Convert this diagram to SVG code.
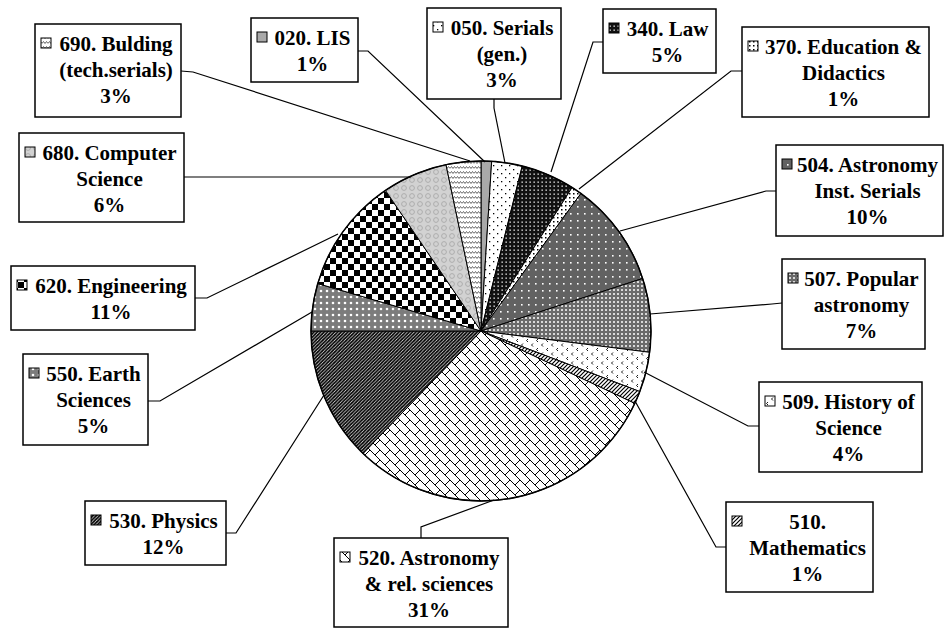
<svg xmlns="http://www.w3.org/2000/svg" width="945" height="630" viewBox="0 0 945 630">
<style>
.box{fill:#fff;stroke:#000;stroke-width:1.5}
.key{stroke:#000;stroke-width:1}
.lbl{font-family:"Liberation Serif","Times New Roman",Tinos,"DejaVu Serif",serif;font-weight:bold;font-size:21px;text-anchor:middle;fill:#000}
.lead{fill:none;stroke:#000;stroke-width:1.2}
.slice{stroke:#000;stroke-width:1}
</style>
<defs>
<pattern id="p050" width="8" height="8" patternUnits="userSpaceOnUse"><rect width="8" height="8" fill="#fff"/><rect x="1" y="1" width="1.3" height="1.3" fill="#000"/><rect x="5" y="5" width="1.3" height="1.3" fill="#000"/></pattern>
<pattern id="p340" width="4" height="4" patternUnits="userSpaceOnUse"><rect width="4" height="4" fill="#111"/><rect x="1.5" y="1.5" width="1.3" height="1.3" fill="#fff"/></pattern>
<pattern id="p370" width="4" height="4" patternUnits="userSpaceOnUse"><rect width="4" height="4" fill="#fff"/><rect x="1" y="1" width="1.5" height="1.5" fill="#000"/></pattern>
<pattern id="p504" width="7" height="7" patternUnits="userSpaceOnUse"><rect width="7" height="7" fill="#626262"/><rect x="3" y="3" width="1.6" height="1.6" fill="#fff"/></pattern>
<pattern id="p507" width="4" height="4" patternUnits="userSpaceOnUse"><rect width="4" height="4" fill="#6a6a6a"/><rect x="1.1" y="1.1" width="1.8" height="1.8" fill="#f2f2f2"/></pattern>
<pattern id="p509" width="10" height="9" patternUnits="userSpaceOnUse"><rect width="10" height="9" fill="#fff"/><path d="M3,1.5 L1.5,3 L3,4.5" fill="none" stroke="#000" stroke-width="0.9"/><path d="M8,6 L6.5,7.5 L8,9" fill="none" stroke="#000" stroke-width="0.9"/></pattern>
<pattern id="p510" width="4" height="4" patternUnits="userSpaceOnUse"><rect width="4" height="4" fill="#fff"/><path d="M-1,5 L5,-1 M-1,1 L1,-1 M3,5 L5,3" stroke="#000" stroke-width="1.2"/></pattern>
<pattern id="p520" width="10" height="10" patternUnits="userSpaceOnUse"><rect width="10" height="10" fill="#fff"/><path d="M0,0 L10,10 M10,0 L5,5 M-1,9 L1,11 M9,-1 L11,1" stroke="#000" stroke-width="1"/></pattern>
<pattern id="p530" width="3.4" height="3.4" patternUnits="userSpaceOnUse"><rect width="3.4" height="3.4" fill="#fff"/><path d="M-1,4.4 L4.4,-1 M-1,1 L1,-1 M2.4,4.4 L4.4,2.4" stroke="#000" stroke-width="1.7"/></pattern>
<pattern id="p550" width="6" height="6" patternUnits="userSpaceOnUse"><rect width="6" height="6" fill="#7c7c7c"/><circle cx="3" cy="3" r="1.3" fill="#fff"/></pattern>
<pattern id="p620" width="12" height="12" patternUnits="userSpaceOnUse"><rect width="12" height="12" fill="#fff"/><rect width="6" height="6" fill="#000"/><rect x="6" y="6" width="6" height="6" fill="#000"/></pattern>
<pattern id="p680" width="8" height="8" patternUnits="userSpaceOnUse"><rect width="8" height="8" fill="#d2d2d2"/><circle cx="4" cy="4" r="2.4" fill="none" stroke="#a8a8a8" stroke-width="0.9"/></pattern>
<pattern id="p690" width="6" height="5" patternUnits="userSpaceOnUse"><rect width="6" height="5" fill="#fff"/><path d="M0,3.5 L1.5,1.5 L3,3.5 L4.5,1.5 L6,3.5" fill="none" stroke="#666" stroke-width="1"/></pattern>
</defs>
<rect width="945" height="630" fill="#fff"/>
<g id="pie">
<path class="slice" fill="#a9a9a9" d="M481,331 L481,161 A170,170 0 0,1 491.68,161.34 Z"/>
<path class="slice" fill="url(#p050)" d="M481,331 L491.68,161.34 A170,170 0 0,1 522.24,166.08 Z"/>
<path class="slice" fill="url(#p340)" d="M481,331 L522.24,166.08 A170,170 0 0,1 572.09,187.47 Z"/>
<path class="slice" fill="url(#p370)" d="M481,331 L572.09,187.47 A170,170 0 0,1 580.92,193.47 Z"/>
<path class="slice" fill="url(#p504)" d="M481,331 L580.92,193.47 A170,170 0 0,1 642.69,278.47 Z"/>
<path class="slice" fill="url(#p507)" d="M481,331 L642.69,278.47 A170,170 0 0,1 649.66,352.31 Z"/>
<path class="slice" fill="url(#p509)" d="M481,331 L649.66,352.31 A170,170 0 0,1 639.83,391.59 Z"/>
<path class="slice" fill="url(#p510)" d="M481,331 L639.83,391.59 A170,170 0 0,1 634.82,403.39 Z"/>
<path class="slice" fill="url(#p520)" d="M481,331 L634.82,403.39 A170,170 0 0,1 363.07,453.45 Z"/>
<path class="slice" fill="url(#p530)" d="M481,331 L363.07,453.45 A170,170 0 0,1 311,331 Z"/>
<path class="slice" fill="url(#p550)" d="M481,331 L311,331 A170,170 0 0,1 317.75,283.57 Z"/>
<path class="slice" fill="url(#p620)" d="M481,331 L317.75,283.57 A170,170 0 0,1 385.44,190.39 Z"/>
<path class="slice" fill="url(#p680)" d="M481,331 L385.44,190.39 A170,170 0 0,1 446,164.64 Z"/>
<path class="slice" fill="url(#p690)" d="M481,331 L446,164.64 A170,170 0 0,1 481,161 Z"/>
<circle cx="481" cy="331" r="170" fill="none" stroke="#000" stroke-width="1.5"/>
</g>
<g id="connectors">
<polyline class="lead" points="181,71 193,72 470,161"/>
<polyline class="lead" points="358,51 368,51 485,162"/>
<polyline class="lead" points="494,99 494,108 505,163"/>
<polyline class="lead" points="603,42 593,42 551,172"/>
<polyline class="lead" points="742,71 731,71 579,189"/>
<polyline class="lead" points="776,191 766,191 620,231"/>
<polyline class="lead" points="782,303 772,304 650,314"/>
<polyline class="lead" points="759,426 748,426 644,372"/>
<polyline class="lead" points="726,547 716,547 635,401"/>
<polyline class="lead" points="421,538 421,527 494,500"/>
<polyline class="lead" points="226,533 236,533 324,395"/>
<polyline class="lead" points="148,401 160,401 312,312"/>
<polyline class="lead" points="195,298 207,298 338,234"/>
<polyline class="lead" points="184,177 411,177"/>
</g>
<g id="n690"><rect class="box" x="35" y="24" width="146" height="93"/><rect class="key" x="41" y="38" width="10" height="10" fill="url(#p690)"/><text class="lbl" x="116" y="51">690. Bulding</text><text class="lbl" x="116" y="77">(tech.serials)</text><text class="lbl" x="116" y="103">3%</text></g>
<g id="n020"><rect class="box" x="251" y="18" width="107" height="64"/><rect class="key" x="257" y="32" width="10" height="10" fill="#a9a9a9"/><text class="lbl" x="312.5" y="45">020. LIS</text><text class="lbl" x="312.5" y="71">1%</text></g>
<g id="n050"><rect class="box" x="427" y="8" width="134" height="91"/><rect class="key" x="433" y="22" width="10" height="10" fill="url(#p050)"/><text class="lbl" x="502" y="35">050. Serials</text><text class="lbl" x="502" y="61">(gen.)</text><text class="lbl" x="502" y="87">3%</text></g>
<g id="n340"><rect class="box" x="603" y="9" width="113" height="64"/><rect class="key" x="609" y="23" width="10" height="10" fill="url(#p340)"/><text class="lbl" x="667.5" y="36">340. Law</text><text class="lbl" x="667.5" y="62">5%</text></g>
<g id="n370"><rect class="box" x="742" y="27" width="187" height="90"/><rect class="key" x="748" y="41" width="10" height="10" fill="url(#p370)"/><text class="lbl" x="843.5" y="54">370. Education &amp;</text><text class="lbl" x="843.5" y="80">Didactics</text><text class="lbl" x="843.5" y="106">1%</text></g>
<g id="n504"><rect class="box" x="776" y="145" width="167" height="91"/><rect class="key" x="782" y="159" width="10" height="10" fill="url(#p504)"/><text class="lbl" x="867.5" y="172">504. Astronomy</text><text class="lbl" x="867.5" y="198">Inst. Serials</text><text class="lbl" x="867.5" y="224">10%</text></g>
<g id="n507"><rect class="box" x="782" y="259" width="143" height="90"/><rect class="key" x="788" y="273" width="10" height="10" fill="url(#p507)"/><text class="lbl" x="861.5" y="286">507. Popular</text><text class="lbl" x="861.5" y="312">astronomy</text><text class="lbl" x="861.5" y="338">7%</text></g>
<g id="n509"><rect class="box" x="759" y="382" width="163" height="90"/><rect class="key" x="765" y="396" width="10" height="10" fill="url(#p509)"/><text class="lbl" x="848.5" y="409">509. History of</text><text class="lbl" x="848.5" y="435">Science</text><text class="lbl" x="848.5" y="461">4%</text></g>
<g id="n510"><rect class="box" x="726" y="502" width="147" height="90"/><rect class="key" x="732" y="516" width="10" height="10" fill="url(#p510)"/><text class="lbl" x="807.5" y="529">510.</text><text class="lbl" x="807.5" y="555">Mathematics</text><text class="lbl" x="807.5" y="581">1%</text></g>
<g id="n520"><rect class="box" x="334" y="538" width="174" height="89"/><rect class="key" x="340" y="552" width="10" height="10" fill="url(#p520)"/><text class="lbl" x="429" y="565">520. Astronomy</text><text class="lbl" x="429" y="591">&amp; rel. sciences</text><text class="lbl" x="429" y="617">31%</text></g>
<g id="n530"><rect class="box" x="85" y="501" width="141" height="64"/><rect class="key" x="91" y="515" width="10" height="10" fill="url(#p530)"/><text class="lbl" x="163.5" y="528">530. Physics</text><text class="lbl" x="163.5" y="554">12%</text></g>
<g id="n550"><rect class="box" x="23" y="354" width="125" height="91"/><rect class="key" x="29" y="368" width="10" height="10" fill="url(#p550)"/><text class="lbl" x="93.5" y="381">550. Earth</text><text class="lbl" x="93.5" y="407">Sciences</text><text class="lbl" x="93.5" y="433">5%</text></g>
<g id="n620"><rect class="box" x="11" y="266" width="184" height="64"/><rect class="key" x="17" y="280" width="10" height="10" fill="url(#p620)"/><text class="lbl" x="111" y="293">620. Engineering</text><text class="lbl" x="111" y="319">11%</text></g>
<g id="n680"><rect class="box" x="19" y="133" width="165" height="89"/><rect class="key" x="25" y="147" width="10" height="10" fill="url(#p680)"/><text class="lbl" x="109.5" y="160">680. Computer</text><text class="lbl" x="109.5" y="186">Science</text><text class="lbl" x="109.5" y="212">6%</text></g>
</svg>
